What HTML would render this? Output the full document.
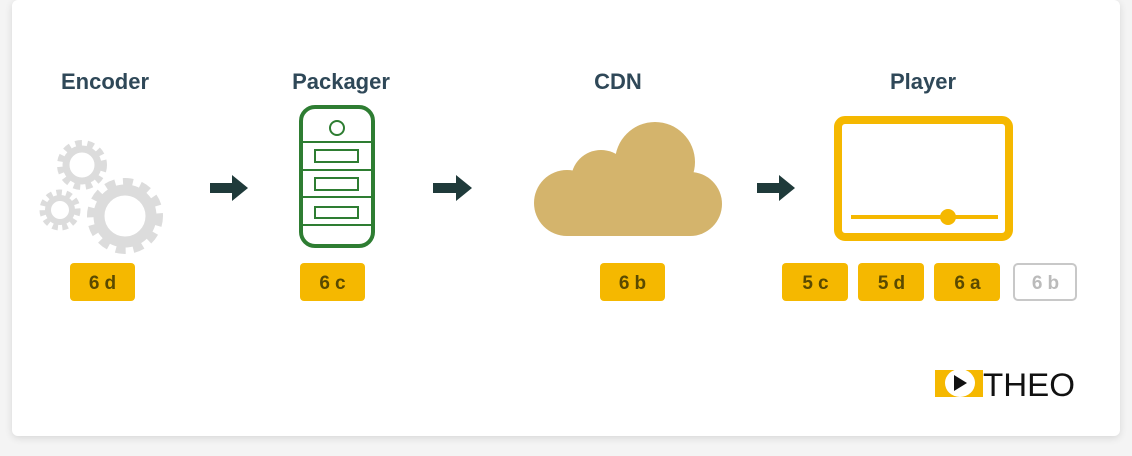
<!DOCTYPE html>
<html><head><meta charset="utf-8"><style>
html,body{margin:0;padding:0;background:#f4f4f4;width:1132px;height:456px;overflow:hidden}
.card{position:absolute;left:12px;top:0;width:1108px;height:436px;background:#fff;border-radius:6px;box-shadow:0 2px 8px rgba(0,0,0,.12)}
svg{position:absolute;left:0;top:0}
text{font-family:"Liberation Sans",sans-serif}
</style></head><body>
<div class="card"></div>
<svg width="1132" height="456" viewBox="0 0 1132 456">
<g fill="#2f4858" font-size="22" font-weight="bold" text-anchor="middle">
<text x="105" y="89">Encoder</text>
<text x="341" y="89">Packager</text>
<text x="618" y="89">CDN</text>
<text x="923" y="89">Player</text>
</g>
<!-- gears -->
<g fill="none" stroke="#dcdcdc">
<circle cx="125" cy="216" r="31" stroke-width="14" stroke-dasharray="9 7"/>
<circle cx="125" cy="216" r="26" stroke-width="11"/>
<circle cx="82" cy="165" r="20" stroke-width="10" stroke-dasharray="6 5"/>
<circle cx="82" cy="165" r="16" stroke-width="7"/>
<circle cx="60" cy="210" r="16" stroke-width="9" stroke-dasharray="5 4"/>
<circle cx="60" cy="210" r="12" stroke-width="6"/>
</g>
<!-- arrows -->
<g fill="#1f3a3a">
<path d="M210 183h22v-8l16 13-16 13v-8h-22z"/>
<path d="M433 183h23v-8l16 13-16 13v-8h-23z"/>
<path d="M757 183h22v-8l16 13-16 13v-8h-22z"/>
</g>
<!-- server -->
<g fill="none" stroke="#2e7d32">
<rect x="301" y="107" width="72" height="139" rx="14" stroke-width="4"/>
<circle cx="337" cy="128" r="7" stroke-width="2"/>
<g stroke-width="2">
<line x1="301" y1="142" x2="373" y2="142"/><line x1="301" y1="170" x2="373" y2="170"/>
<line x1="301" y1="197" x2="373" y2="197"/><line x1="301" y1="225" x2="373" y2="225"/>
<rect x="315" y="150" width="43" height="12"/><rect x="315" y="178" width="43" height="12"/><rect x="315" y="207" width="43" height="11"/>
</g></g>
<!-- cloud -->
<g fill="#d4b46c">
<circle cx="655" cy="162" r="40"/>
<circle cx="601" cy="180" r="30"/>
<circle cx="567" cy="203" r="33"/>
<circle cx="690" cy="204" r="32"/>
<rect x="567" y="190" width="123" height="46"/>
</g>
<!-- monitor -->
<rect x="838" y="120" width="171" height="117" rx="7" fill="none" stroke="#f5b800" stroke-width="8"/>
<line x1="851" y1="217" x2="998" y2="217" stroke="#f5b800" stroke-width="4"/>
<circle cx="948" cy="217" r="8" fill="#f5b800"/>
<!-- badges -->
<g fill="#f5b800">
<rect x="70" y="263" width="65" height="38" rx="4"/>
<rect x="300" y="263" width="65" height="38" rx="4"/>
<rect x="600" y="263" width="65" height="38" rx="4"/>
<rect x="782" y="263" width="66" height="38" rx="4"/>
<rect x="858" y="263" width="66" height="38" rx="4"/>
<rect x="934" y="263" width="66" height="38" rx="4"/>
</g>
<rect x="1014" y="264" width="62" height="36" rx="4" fill="none" stroke="#c8c8c8" stroke-width="2"/>
<g fill="#5a4a00" font-size="19" font-weight="bold" text-anchor="middle" letter-spacing="5">
<text x="105" y="289">6d</text><text x="335" y="289">6c</text><text x="635" y="289">6b</text>
<text x="818" y="289">5c</text><text x="894" y="289">5d</text><text x="970" y="289">6a</text>
<text x="1048" y="289" fill="#bbb">6b</text>
</g>
<!-- logo -->
<rect x="935" y="370" width="48" height="27" fill="#f5b800"/>
<ellipse cx="960" cy="383" rx="15" ry="14" fill="#fff"/>
<path d="M954 375l13 8-13 8z" fill="#111"/>
<text x="983" y="396" font-size="32" fill="#111" textLength="92" lengthAdjust="spacingAndGlyphs">THEO</text>
</svg>
</body></html>
